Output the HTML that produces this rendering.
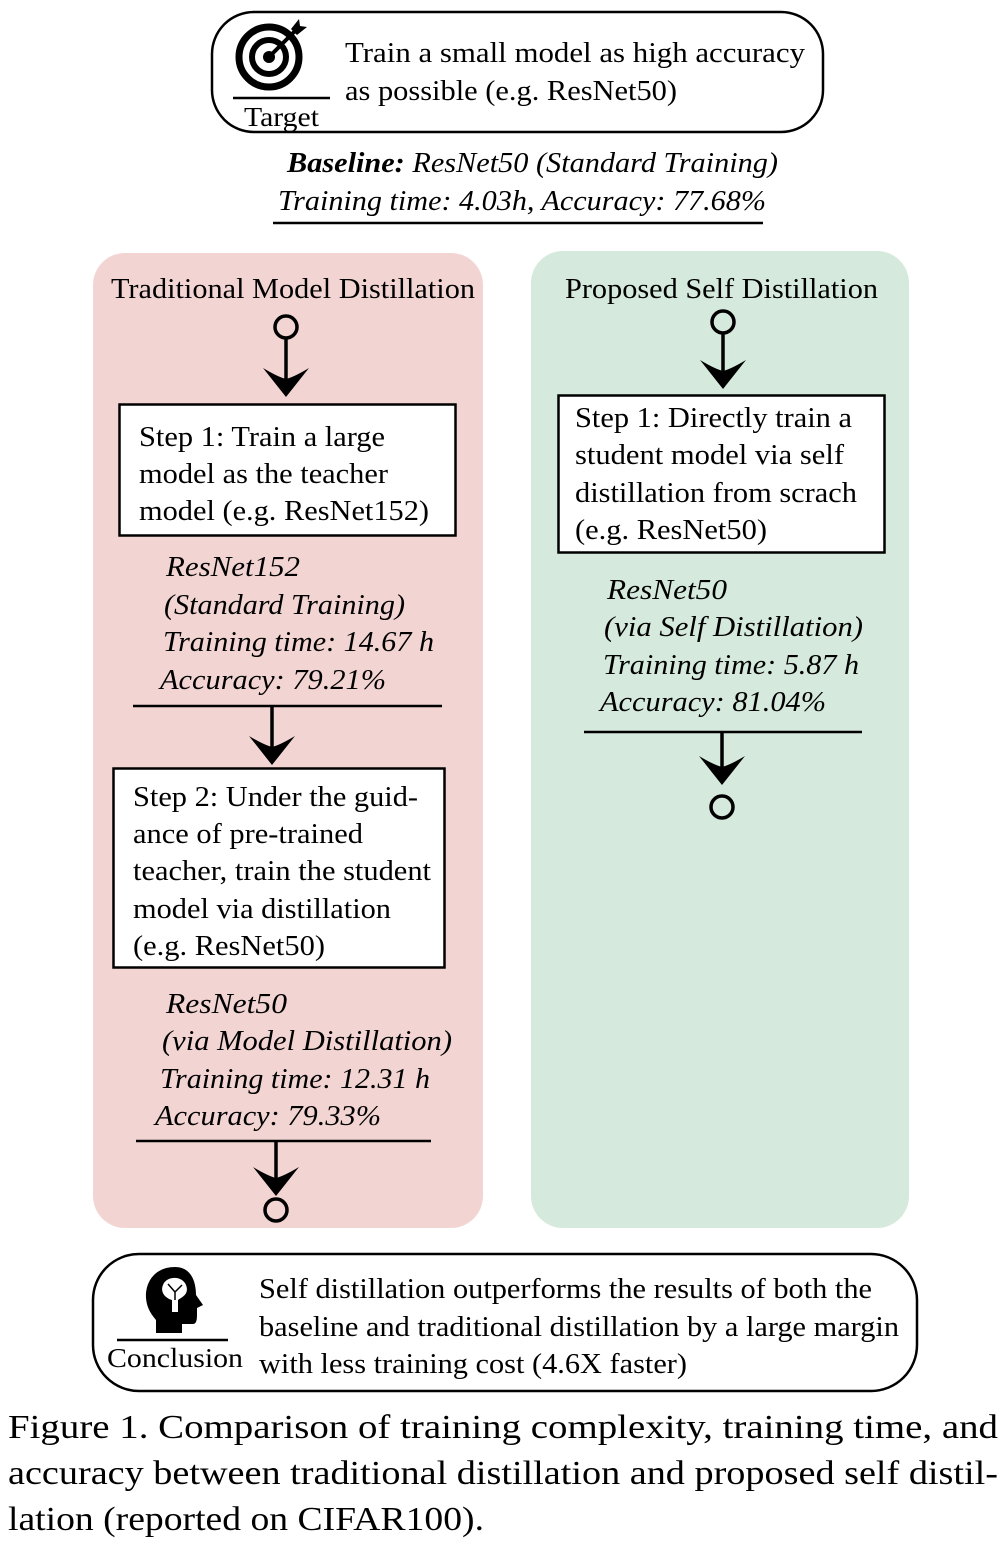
<!DOCTYPE html>
<html><head><meta charset="utf-8"><style>
html,body{margin:0;padding:0;background:#fff}
svg{display:block}
text,tspan{font-family:"Liberation Serif","Times New Roman",serif;fill:#000}
.i{font-style:italic}
</style></head><body>
<svg width="1006" height="1546" viewBox="0 0 1006 1546" xmlns="http://www.w3.org/2000/svg">
<defs>
<g id="ah"><path d="M-23,-29 Q-8,-20 0,-18 Q8,-20 23,-29 L0,0 Z" fill="#000"/></g>
</defs>
<rect x="212" y="12" width="611" height="120" rx="42" fill="#fff" stroke="#000" stroke-width="2.5"/>
<g transform="translate(269,57)">
<circle r="30" fill="none" stroke="#000" stroke-width="7"/>
<circle r="17" fill="none" stroke="#000" stroke-width="6"/>
<circle r="6" fill="#000"/>
<line x1="0" y1="0" x2="30" y2="-30" stroke="#000" stroke-width="4"/>
<path d="M22,-28 L30,-38 L31,-31 L38,-30 L28,-22 Z" fill="#000"/>
</g>
<line x1="233" y1="98" x2="330" y2="98" stroke="#000" stroke-width="2.5"/>
<text x="244" y="126" font-size="27" textLength="75" lengthAdjust="spacingAndGlyphs">Target</text>
<text x="345" y="62" font-size="28" textLength="460" lengthAdjust="spacingAndGlyphs">Train a small model  as high accuracy</text>
<text x="345" y="100" font-size="28" textLength="332" lengthAdjust="spacingAndGlyphs">as possible (e.g. ResNet50)</text>
<text x="287" y="172" font-size="28" class="i" textLength="491" lengthAdjust="spacingAndGlyphs"><tspan font-weight="bold">Baseline:</tspan> ResNet50 (Standard Training)</text>
<text x="278" y="210" font-size="28" class="i" textLength="488" lengthAdjust="spacingAndGlyphs">Training time: 4.03h, Accuracy: 77.68%</text>
<line x1="273" y1="223" x2="763" y2="223" stroke="#000" stroke-width="2.5"/>
<rect x="93" y="253" width="390" height="975" rx="32" fill="#f2d5d2"/>
<rect x="531" y="251" width="378" height="977" rx="32" fill="#d5e9dd"/>
<text x="111" y="298" font-size="28" textLength="364" lengthAdjust="spacingAndGlyphs">Traditional Model Distillation</text>
<circle cx="286" cy="327" r="11" fill="none" stroke="#000" stroke-width="3.5"/>
<line x1="286" y1="338" x2="286" y2="385" stroke="#000" stroke-width="3.5"/>
<use href="#ah" transform="translate(286,397)"/>
<rect x="119.5" y="404.5" width="336" height="131" fill="#fff" stroke="#000" stroke-width="2.5"/>
<g font-size="28">
<text x="139" y="446" textLength="246" lengthAdjust="spacingAndGlyphs">Step 1: Train a large</text>
<text x="139" y="483" textLength="249" lengthAdjust="spacingAndGlyphs">model as the teacher</text>
<text x="139" y="520" textLength="290" lengthAdjust="spacingAndGlyphs">model (e.g. ResNet152)</text>
<text class="i" x="166" y="576" textLength="134" lengthAdjust="spacingAndGlyphs">ResNet152</text>
<text class="i" x="164" y="614" textLength="241" lengthAdjust="spacingAndGlyphs">(Standard Training)</text>
<text class="i" x="163" y="651" textLength="271" lengthAdjust="spacingAndGlyphs">Training time: 14.67 h</text>
<text class="i" x="160" y="689" textLength="226" lengthAdjust="spacingAndGlyphs">Accuracy: 79.21%</text>
</g>
<line x1="133" y1="706" x2="442" y2="706" stroke="#000" stroke-width="2.5"/>
<line x1="272" y1="707" x2="272" y2="752" stroke="#000" stroke-width="3.5"/>
<use href="#ah" transform="translate(272,765)"/>
<rect x="113.5" y="768.5" width="331" height="199" fill="#fff" stroke="#000" stroke-width="2.5"/>
<g font-size="28">
<text x="133" y="806" textLength="285" lengthAdjust="spacingAndGlyphs">Step 2: Under the guid-</text>
<text x="133" y="843" textLength="230" lengthAdjust="spacingAndGlyphs">ance of pre-trained</text>
<text x="133" y="880" textLength="298" lengthAdjust="spacingAndGlyphs">teacher, train the student</text>
<text x="133" y="918" textLength="258" lengthAdjust="spacingAndGlyphs">model via distillation</text>
<text x="133" y="955" textLength="192" lengthAdjust="spacingAndGlyphs">(e.g. ResNet50)</text>
<text class="i" x="166" y="1013" textLength="121" lengthAdjust="spacingAndGlyphs">ResNet50</text>
<text class="i" x="162" y="1050" textLength="290" lengthAdjust="spacingAndGlyphs">(via Model Distillation)</text>
<text class="i" x="160" y="1088" textLength="270" lengthAdjust="spacingAndGlyphs">Training time: 12.31 h</text>
<text class="i" x="155" y="1125" textLength="226" lengthAdjust="spacingAndGlyphs">Accuracy: 79.33%</text>
</g>
<line x1="136" y1="1141" x2="431" y2="1141" stroke="#000" stroke-width="2.5"/>
<line x1="276" y1="1142" x2="276" y2="1185" stroke="#000" stroke-width="3.5"/>
<use href="#ah" transform="translate(276,1196)"/>
<circle cx="276" cy="1210" r="11" fill="none" stroke="#000" stroke-width="3.5"/>
<text x="565" y="298" font-size="28" textLength="313" lengthAdjust="spacingAndGlyphs">Proposed Self Distillation</text>
<circle cx="723" cy="322" r="11" fill="none" stroke="#000" stroke-width="3.5"/>
<line x1="723" y1="333" x2="723" y2="377" stroke="#000" stroke-width="3.5"/>
<use href="#ah" transform="translate(723,389)"/>
<rect x="558.5" y="395.5" width="326" height="157" fill="#fff" stroke="#000" stroke-width="2.5"/>
<g font-size="28">
<text x="575" y="427" textLength="277" lengthAdjust="spacingAndGlyphs">Step 1: Directly train a</text>
<text x="575" y="464" textLength="269" lengthAdjust="spacingAndGlyphs">student model via self</text>
<text x="575" y="502" textLength="282" lengthAdjust="spacingAndGlyphs">distillation from scrach</text>
<text x="575" y="539" textLength="192" lengthAdjust="spacingAndGlyphs">(e.g. ResNet50)</text>
<text class="i" x="607" y="599" textLength="120" lengthAdjust="spacingAndGlyphs">ResNet50</text>
<text class="i" x="604" y="636" textLength="259" lengthAdjust="spacingAndGlyphs">(via Self Distillation)</text>
<text class="i" x="603" y="674" textLength="256" lengthAdjust="spacingAndGlyphs">Training time: 5.87 h</text>
<text class="i" x="600" y="711" textLength="226" lengthAdjust="spacingAndGlyphs">Accuracy: 81.04%</text>
</g>
<line x1="584" y1="732" x2="862" y2="732" stroke="#000" stroke-width="2.5"/>
<line x1="722" y1="733" x2="722" y2="773" stroke="#000" stroke-width="3.5"/>
<use href="#ah" transform="translate(722,785)"/>
<circle cx="722" cy="807" r="11" fill="none" stroke="#000" stroke-width="3.5"/>
<rect x="93" y="1254" width="824" height="137" rx="46" fill="#fff" stroke="#000" stroke-width="2.5"/>
<path d="M175,1267 C155,1267 145,1282 146,1298 C147,1310 153,1316 156,1320 L156,1333 L182,1333 L182,1324 L193,1324 C197,1324 197,1318 197,1314 L197,1308 L203,1305 L196,1295 C196,1280 190,1267 175,1267 Z" fill="#000"/>
<path d="M163,1285 C166,1276 182,1275 186,1285 C190,1295 180,1298 178,1300 L178,1312 L172,1312 L172,1300 C165,1298 160,1292 163,1285 Z" fill="#fff"/>
<path d="M168,1284 L175,1292 L182,1285 M175,1292 L175,1300" stroke="#000" stroke-width="1.5" fill="none"/>
<line x1="117" y1="1340" x2="228" y2="1340" stroke="#000" stroke-width="2.5"/>
<text x="107" y="1367" font-size="27" textLength="136" lengthAdjust="spacingAndGlyphs">Conclusion</text>
<g font-size="28">
<text x="259" y="1298" textLength="613" lengthAdjust="spacingAndGlyphs">Self distillation outperforms the results of both the</text>
<text x="259" y="1336" textLength="640" lengthAdjust="spacingAndGlyphs">baseline and traditional distillation by a large margin</text>
<text x="259" y="1373" textLength="428" lengthAdjust="spacingAndGlyphs">with less training cost (4.6X faster)</text>
</g>
<g font-size="34">
<text x="8" y="1438" textLength="990" lengthAdjust="spacingAndGlyphs">Figure 1. Comparison of training complexity, training time, and</text>
<text x="8" y="1484" textLength="990" lengthAdjust="spacingAndGlyphs">accuracy between traditional distillation and proposed self distil-</text>
<text x="8" y="1530" textLength="476" lengthAdjust="spacingAndGlyphs">lation (reported on CIFAR100).</text>
</g>
</svg>
</body></html>
